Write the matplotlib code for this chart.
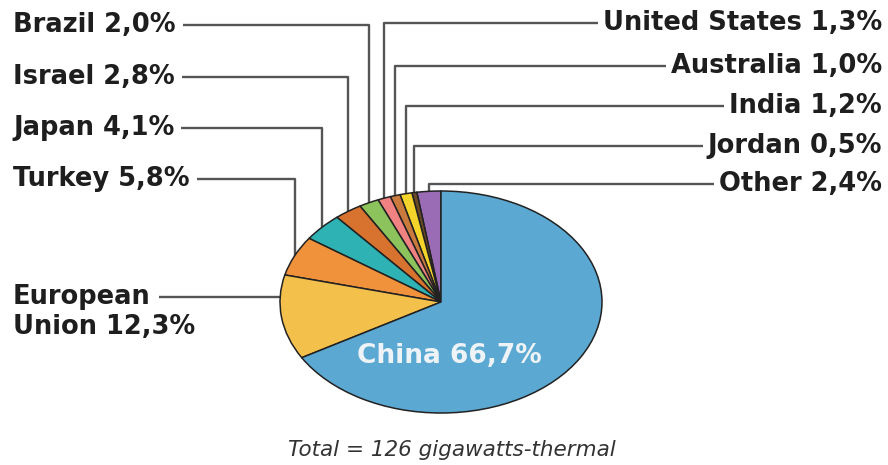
import numpy as np
import matplotlib.pyplot as plt

# shares of installed capacity, counter-clockwise from the top
countries = ["Other", "Jordan", "India", "Australia", "United States", "Brazil",
             "Israel", "Japan", "Turkey", "European Union", "China"]
shares = [2.4, 0.5, 1.2, 1.0, 1.3, 2.0, 2.8, 4.1, 5.8, 12.3, 66.7]
colors = ["#9b6cb6", "#6a4a24", "#f4d42a", "#c97a3c", "#f08282", "#8cc35c",
          "#d8722f", "#2fb2b4", "#f0923c", "#f4c04c", "#5ba9d3"]

# label placement (pixels): which side and the y of each label line
left_side = {"Brazil": 25, "Israel": 77, "Japan": 128, "Turkey": 179}
right_side = {"United States": 23, "Australia": 66, "India": 106,
              "Jordan": 146, "Other": 184}

W, H = 888, 465
fig = plt.figure(figsize=(W / 100, H / 100), dpi=100)
fig.patch.set_facecolor("white")

# pie as an ellipse: stretch a unit pie into a wide axes box
cx, cy, rx, ry = 441, 302, 161, 111
pax = fig.add_axes([(cx - rx) / W, (H - cy - ry) / H, 2 * rx / W, 2 * ry / H])
wedges, _ = pax.pie(shares, colors=colors, startangle=90, counterclock=True,
                    radius=1, wedgeprops=dict(edgecolor="#222222", linewidth=1.1))
pax.set_aspect("auto")
pax.set_xlim(-1, 1)
pax.set_ylim(-1, 1)
pax.axis("off")

# overlay in pixel coordinates for labels and leader lines
ax = fig.add_axes([0, 0, 1, 1], zorder=-1)
ax.set_xlim(0, W)
ax.set_ylim(H, 0)
ax.axis("off")

font = dict(family="DejaVu Sans", fontweight="bold", fontsize=18.5,
            color="#1e1e1e")
line_kw = dict(color="#555555", lw=1.7, solid_capstyle="butt")

renderer = fig.canvas.get_renderer()
inv = ax.transData.inverted()


def pct(v):
    return f"{v:.1f}%".replace(".", ",")


def anchor(w):
    mid = np.deg2rad((w.theta1 + w.theta2) / 2)
    return cx + rx * np.cos(mid), cy - ry * np.sin(mid)


for name, share, w in zip(countries, shares, wedges):
    ax_x, ax_y = anchor(w)
    if name in left_side:
        y = left_side[name]
        t = ax.text(13, y, f"{name} {pct(share)}", ha="left", va="center", **font)
        x0 = inv.transform(t.get_window_extent(renderer))[1][0] + 7
        ax.plot([x0, ax_x, ax_x], [y, y, ax_y], **line_kw)
    elif name in right_side:
        y = right_side[name]
        t = ax.text(882, y, f"{name} {pct(share)}", ha="right", va="center", **font)
        x1 = inv.transform(t.get_window_extent(renderer))[0][0] - 5
        ax.plot([x1, ax_x, ax_x], [y, y, ax_y], **line_kw)

# European Union: two-line label, leader runs off the first line
eu = countries.index("European Union")
t = ax.text(13, 297, "European", ha="left", va="center", **font)
ax.text(13, 327, f"Union {pct(shares[eu])}", ha="left", va="center", **font)
x0 = inv.transform(t.get_window_extent(renderer))[1][0] + 8
ax.plot([x0, cx - rx * np.sqrt(1 - ((cy - 297) / ry) ** 2)], [297, 297], **line_kw)

# China label inside its slice
ch = countries.index("China")
fig.text(449 / W, 1 - 356 / H, f"China {pct(shares[ch])}", ha="center",
         va="center", family="DejaVu Sans", fontweight="bold", fontsize=19,
         color="#eef3f7", zorder=5)

fig.text(452 / W, 1 - 450 / H, "Total = 126 gigawatts-thermal", ha="center",
         va="center", style="italic", fontsize=15.5, color="#333333",
         family="DejaVu Sans")

fig.savefig("out.png", dpi=100, facecolor="white")
